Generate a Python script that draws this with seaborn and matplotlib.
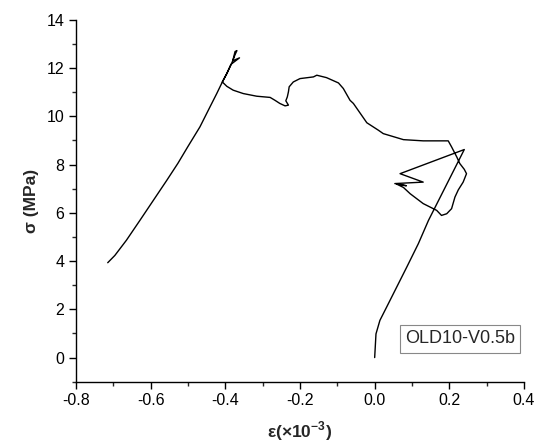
import matplotlib
matplotlib.use("Agg")
import matplotlib.pyplot as plt
import seaborn as sns
import pandas as pd
from matplotlib.ticker import MultipleLocator

strain = [
    -0.715, -0.696, -0.665, -0.629, -0.593, -0.557, -0.527, -0.500, -0.468, -0.441,
    -0.423, -0.408, -0.396, -0.383, -0.374, -0.369, -0.374, -0.380, -0.362, -0.385,
    -0.396, -0.408,
    -0.396, -0.379, -0.352, -0.316, -0.280, -0.267, -0.254, -0.240, -0.231, -0.238,
    -0.234, -0.231, -0.229, -0.218, -0.200, -0.164, -0.155, -0.129, -0.097, -0.084,
    -0.066, -0.057, -0.021, 0.010, 0.023, 0.077, 0.130, 0.197,
    0.206, 0.220, 0.228, 0.240, 0.246, 0.237, 0.224, 0.215, 0.206, 0.193, 0.179, 0.166,
    0.130, 0.095, 0.077, 0.060, 0.085, 0.054, 0.130, 0.068, 0.240,
    0.144, 0.117, 0.086, 0.059, 0.032, 0.014, 0.0035, 0.0,
]
stress = [
    3.93, 4.23, 4.86, 5.68, 6.51, 7.34, 8.05, 8.75, 9.56, 10.39,
    10.94, 11.42, 11.77, 12.19, 12.55, 12.72, 12.68, 12.30, 12.42, 12.15,
    11.77, 11.42,
    11.24, 11.08, 10.94, 10.83, 10.78, 10.66, 10.53, 10.43, 10.46, 10.64,
    10.80, 11.01, 11.22, 11.42, 11.56, 11.63, 11.70, 11.60, 11.38, 11.15,
    10.66, 10.53, 9.73, 9.42, 9.28, 9.03, 8.98, 8.98,
    8.73, 8.31, 8.04, 7.80, 7.62, 7.27, 6.95, 6.65, 6.17, 5.96, 5.89, 6.10,
    6.38, 6.79, 7.05, 7.18, 7.12, 7.21, 7.27, 7.62, 8.62,
    5.68, 4.72, 3.75, 2.92, 2.09, 1.54, 0.98, 0.0,
]
x_ticks = [-0.8, -0.6, -0.4, -0.2, 0.0, 0.2, 0.4]
y_ticks = [0, 2, 4, 6, 8, 10, 12, 14]
label_text = "OLD10-V0.5b"

sns.set_style("ticks")
plt.rcParams['font.family'] = ['Liberation Sans', 'DejaVu Sans']
plt.rcParams['mathtext.fontset'] = 'custom'
plt.rcParams['mathtext.rm'] = 'Liberation Sans'
plt.rcParams['mathtext.bf'] = 'Liberation Sans:bold'

df = pd.DataFrame({"strain": strain, "stress": stress})

fig = plt.figure(figsize=(5.34, 4.43), dpi=100)
ax = fig.add_axes([0.1423, 0.1384, 0.839, 0.8171])
sns.lineplot(data=df, x="strain", y="stress", sort=False, estimator=None,
             color="black", linewidth=1.0, ax=ax)

ax.set_xlim(-0.8, 0.4)
ax.set_ylim(-1, 14)
ax.set_xticks(x_ticks)
ax.set_xticklabels([f"{v:.1f}" for v in x_ticks])
ax.set_yticks(y_ticks)
ax.set_yticklabels([str(v) for v in y_ticks])
ax.xaxis.set_minor_locator(MultipleLocator(0.1))
ax.yaxis.set_minor_locator(MultipleLocator(1))
ax.tick_params(which="major", direction="out", length=5, width=1, labelsize=11.5, colors="black")
ax.tick_params(which="minor", direction="out", length=3, width=1)
for s in ["left", "bottom"]:
    ax.spines[s].set_linewidth(1.0)
    ax.spines[s].set_color("black")
sns.despine(ax=ax)

ax.set_xlabel(r"ε(×10$^{\mathbf{-3}}$)", fontsize=12.5, fontweight="bold", labelpad=8)
ax.set_ylabel("σ (MPa)", fontsize=12.5, fontweight="bold", labelpad=5)

ax.text(0.857, 0.118, label_text, transform=ax.transAxes, ha="center", va="center",
        fontsize=13,
        bbox=dict(boxstyle="square,pad=0.28", facecolor="white", edgecolor="#888888", linewidth=0.8))

fig.savefig("out.png", dpi=100)
